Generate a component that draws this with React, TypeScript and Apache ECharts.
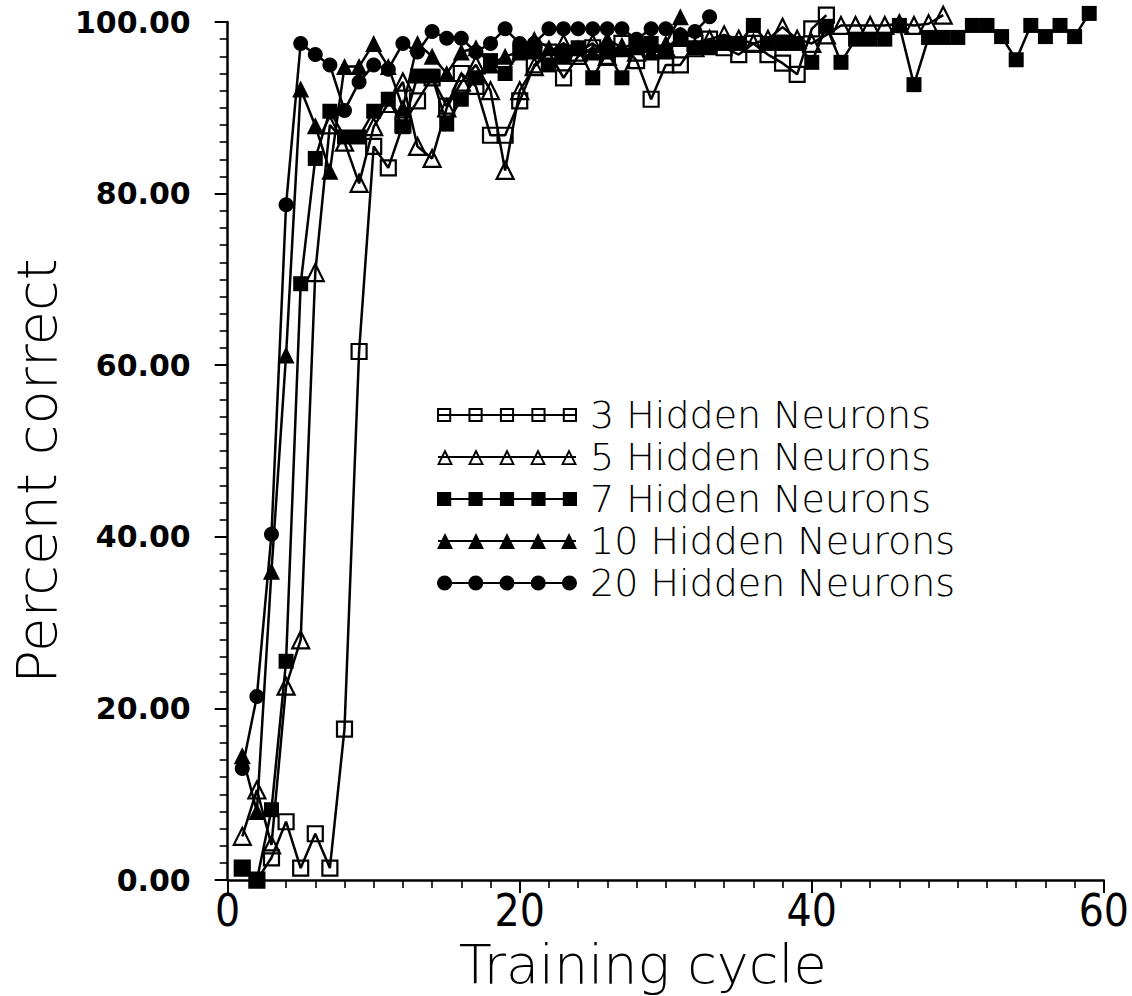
import React, { useEffect, useRef } from "react";
import * as echarts from "echarts";

// Percent correct per training cycle (cycle = index + 1)
const hidden3: number[] = [
  1.4, 0, 2.6, 6.8, 1.4, 5.4, 1.4, 17.6, 61.6, 85.5,
  83.0, 88.0, 90.8, 93.5, 90.2, 94.0, 92.5, 86.8, 86.8, 90.8,
  95.0, 96.5, 93.5, 96.0, 97.0, 96.0, 97.5, 95.5, 91.0, 95.0,
  95.0, 97.5, 98.0, 97.0, 96.2, 97.5, 96.2, 95.2, 93.9, 99.2,
  100.8,
];
const hidden5: number[] = [
  5.1, 10.5, 4.1, 22.6, 28.0, 70.8, 88.0, 86.0, 81.2, 87.8,
  90.5, 93.0, 85.5, 84.1, 90.0, 93.0, 95.0, 92.0, 82.7, 92.0,
  94.8, 96.5, 97.5, 96.5, 97.5, 96.0, 97.0, 96.5, 97.5, 97.0,
  98.2, 97.0, 98.0, 98.5, 98.0, 97.5, 98.0, 99.4, 98.0, 97.5,
  98.5, 99.6, 99.6, 99.6, 99.6, 99.8, 99.6, 99.8, 100.8,
];
const hidden7: number[] = [
  1.4, 0, 8.2, 25.5, 69.5, 84.1, 89.6, 86.6, 86.6, 89.6,
  91.0, 87.8, 93.7, 93.7, 88.1, 91.0, 93.5, 95.5, 94.0, 96.5,
  96.5, 95.0, 96.5, 97.0, 93.5, 96.5, 93.5, 97.0, 97.5, 96.5,
  98.0, 97.0, 97.0, 97.5, 97.5, 99.6, 97.5, 97.5, 97.5, 95.3,
  99.5, 95.3, 98.0, 98.0, 98.0, 99.6, 92.7, 98.2, 98.2, 98.2,
  99.6, 99.6, 98.3, 95.6, 99.6, 98.3, 99.6, 98.3, 101.0,
];
const hidden10: number[] = [
  14.5, 8.0, 36.0, 61.2, 92.2, 87.9, 82.6, 94.8, 94.8, 97.5,
  94.8, 90.0, 97.5, 96.0, 94.0, 96.5, 97.0, 95.0, 96.0, 96.5,
  98.0, 97.0, 96.0, 97.0, 96.5, 98.0, 97.0, 97.5, 96.5, 97.5,
  100.6,
];
const hidden20: number[] = [
  13.0, 21.4, 40.3, 78.7, 97.5, 96.2, 95.0, 89.7, 93.0, 95.0,
  94.5, 97.5, 96.5, 98.9, 98.1, 98.1, 96.5, 97.5, 99.2, 97.5,
  97.5, 99.2, 99.2, 99.2, 99.2, 99.2, 99.2, 98.0, 99.2, 99.2,
  98.5, 98.9, 100.6,
];

const seriesNames = [
  "3 Hidden Neurons",
  "5 Hidden Neurons",
  "7 Hidden Neurons",
  "10 Hidden Neurons",
  "20 Hidden Neurons",
];
const seriesValues = [hidden3, hidden5, hidden7, hidden10, hidden20];
const seriesSymbols = ["rect", "triangle", "rect", "triangle", "circle"];
const seriesFilled = [false, false, true, true, true];
const iconKinds = ["osq", "otri", "sq", "tri", "cir"];

const xTicks = { min: 0, max: 60, interval: 20 };
const yTicks = { min: 0, max: 100, interval: 20 };

const iconCenters = [7, 38, 69, 100, 131];
function iconPath(kind: string): string {
  let d = "M0 7H138V9H0Z";
  for (const c of iconCenters) {
    if (kind === "sq") d += `M${c - 7} 1H${c + 7}V15H${c - 7}Z`;
    if (kind === "osq")
      d += `M${c - 7} 1H${c + 7}V15H${c - 7}ZM${c - 5} 3V13H${c + 5}V3Z`;
    if (kind === "tri") d += `M${c - 8} 16L${c} 0L${c + 8} 16Z`;
    if (kind === "otri")
      d += `M${c - 8} 16L${c} 0L${c + 8} 16ZM${c - 5} 14.2L${c + 5} 14.2L${c} 4.3Z`;
    if (kind === "cir")
      d += `M${c - 7.5} 8A7.5 7.5 0 1 1 ${c + 7.5} 8A7.5 7.5 0 1 1 ${c - 7.5} 8Z`;
  }
  return "path://" + d;
}

export default function App() {
  const ref = useRef<HTMLDivElement>(null);

  useEffect(() => {
    if (!ref.current) return;
    const chart = echarts.init(ref.current, null, { renderer: "svg" });

    const series = seriesNames.map((name, i) => ({
      name,
      type: "line",
      data: seriesValues[i].map((v, k) => [k + 1, v]),
      symbol: seriesSymbols[i],
      symbolSize: seriesSymbols[i] === "triangle" ? 17 : 15,
      clip: false,
      lineStyle: { color: "#000", width: 2.5 },
      itemStyle: seriesFilled[i]
        ? { color: "#000", borderWidth: 0 }
        : { color: "rgba(255,255,255,0)", borderColor: "#000", borderWidth: 2.2 },
      emphasis: { disabled: true },
      z: 2 + i,
    }));

    chart.setOption({
      animation: false,
      backgroundColor: "#fff",
      grid: { left: 226, right: 27, top: 22, bottom: 107 },
      xAxis: {
        type: "value",
        ...xTicks,
        axisLine: { show: true, lineStyle: { color: "#000", width: 2.5 } },
        axisTick: { show: true, length: 13, lineStyle: { color: "#000", width: 2 } },
        minorTick: { show: true, splitNumber: 10, length: 8, lineStyle: { color: "#000", width: 1.6 } },
        splitLine: { show: false },
        minorSplitLine: { show: false },
        axisLabel: {
          margin: 8,
          color: "#000",
          fontFamily: "'Liberation Sans Narrow', 'DejaVu Sans Condensed', 'Liberation Sans', sans-serif",
          fontSize: 44,
        },
        name: "Training cycle",
        nameLocation: "middle",
        nameGap: 42,
        nameTextStyle: {
          color: "#000",
          fontFamily: "'DejaVu Sans', sans-serif",
          fontWeight: 200,
          fontSize: 54,
          padding: [0, 46, 0, 0],
        },
      },
      yAxis: {
        type: "value",
        ...yTicks,
        axisLine: { show: true, lineStyle: { color: "#000", width: 2.5 } },
        axisTick: { show: true, length: 13, lineStyle: { color: "#000", width: 2 } },
        minorTick: { show: true, splitNumber: 10, length: 8, lineStyle: { color: "#000", width: 1.6 } },
        splitLine: { show: false },
        minorSplitLine: { show: false },
        axisLabel: {
          margin: 37,
          color: "#000",
          fontFamily: "'DejaVu Sans', sans-serif",
          fontWeight: "bold",
          fontSize: 30,
          formatter: (v: number) => v.toFixed(2),
        },
        name: "Percent correct",
        nameLocation: "middle",
        nameGap: 150,
        nameTextStyle: {
          color: "#000",
          fontFamily: "'DejaVu Sans', sans-serif",
          fontWeight: 200,
          fontSize: 56,
          padding: [0, 40, 0, 0],
        },
      },
      legend: {
        show: true,
        orient: "vertical",
        left: 432,
        top: 389,
        itemWidth: 140,
        itemHeight: 16,
        itemGap: 0,
        selectedMode: false,
        textStyle: {
          color: "#000",
          fontFamily: "'DejaVu Sans', sans-serif",
          fontWeight: 200,
          fontSize: 38,
          lineHeight: 42,
          padding: [0, 0, 0, 8],
        },
        data: seriesNames.map((n, i) => ({
          name: n,
          icon: iconPath(iconKinds[i]),
          itemStyle: { color: "#000", borderWidth: 0 },
        })),
      },
      series,
    });

    return () => chart.dispose();
  }, []);

  return (
    <div
      ref={ref}
      style={{ position: "fixed", left: 0, top: 0, width: 1132, height: 996, background: "#fff" }}
    />
  );
}
